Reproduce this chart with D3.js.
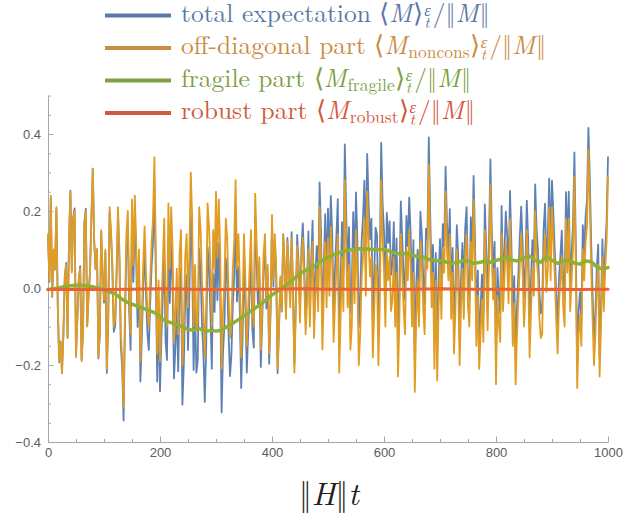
<!DOCTYPE html>
<html>
<head>
<meta charset="utf-8">
<title>expectation parts</title>
<script src="https://d3js.org/d3.v7.min.js"></script>
<style type="text/css">
	body { margin: 0; background: #fff; }
	.axis path, .axis line { stroke: #a8a8a8; }
	.axis text { font-family: "Liberation Sans", Arial, sans-serif; font-size: 13px; fill: #5c5c5c; }
	.series { fill: none; stroke-linejoin: round; stroke-linecap: round; }
	.tex { font-family: "Latin Modern Roman", "Liberation Serif", serif; }
</style>
</head>
<body>
<svg id="chart" width="626" height="518"></svg>
<script>
// sampled every 2.5 units of ||H|| t (0 .. 1000)
var tStep = 2.5;
var offDiag = [
	0.14,0.02,0.24,-0.02,0.10,0.05,0.21,-0.05,-0.19,-0.14,-0.22,-0.12,0.03,0.06,-0.13,0.12,0.25,0.04,0.18,0.20,
	-0.18,-0.08,0.02,0.05,-0.19,-0.12,0.17,0.20,-0.10,-0.02,0.04,0.18,0.31,0.12,0.05,0.10,-0.18,-0.12,0.15,0.04,
	-0.03,0.10,-0.21,-0.08,0.21,0.15,0.06,-0.10,-0.08,0.05,0.21,0.10,-0.12,-0.18,-0.31,-0.05,0.14,0.20,-0.02,-0.12,
	0.23,0.06,0.24,0.12,-0.05,0.10,-0.19,-0.08,0.06,0.16,0.04,-0.06,-0.10,0.02,0.12,0.18,0.34,0.10,-0.17,0.02,
	-0.19,-0.05,0.06,0.18,-0.05,-0.10,0.22,0.05,0.21,0.10,-0.14,-0.06,0.05,-0.12,0.09,0.15,-0.20,-0.10,0.08,0.14,
	-0.05,0.10,0.30,0.18,-0.10,0.06,-0.11,-0.08,0.21,0.15,0.02,-0.06,-0.18,-0.04,0.22,0.16,0.05,-0.10,0.15,0.05,
	0.25,0.08,0.23,0.10,-0.21,-0.06,0.01,0.18,0.13,-0.02,-0.13,-0.08,0.05,0.12,0.28,0.05,0.14,0.02,-0.18,-0.05,
	0.14,0.02,-0.15,-0.05,0.05,0.15,-0.05,-0.10,0.245,0.12,0.0,0.08,-0.16,-0.05,0.09,0.14,-0.02,0.06,-0.17,-0.04,
	0.19,0.02,0.14,0.05,-0.21,-0.10,0.03,-0.06,0.14,0.06,-0.08,0.12,0.04,-0.05,0.13,-0.02,-0.22,-0.06,0.11,0.03,
	-0.09,0.06,0.13,0.02,-0.12,-0.04,0.10,-0.10,0.02,0.12,-0.13,-0.02,0.05,-0.06,0.21,0.08,-0.16,-0.02,0.12,-0.05,
	0.13,-0.02,0.16,0.06,-0.14,-0.04,0.05,0.14,-0.22,-0.08,0.08,-0.06,0.28,0.10,-0.05,0.06,-0.16,-0.10,0.10,-0.04,
	0.15,0.02,-0.20,-0.12,0.02,0.08,0.18,-0.02,0.25,0.12,0.03,0.08,-0.18,-0.06,0.06,0.04,-0.20,-0.04,0.28,0.12,
	0.05,-0.10,0.10,0.02,0.08,-0.06,-0.03,0.08,-0.10,0.04,-0.23,-0.08,0.14,0.04,-0.05,-0.12,0.10,0.02,0.15,0.06,
	-0.10,0.04,-0.27,-0.08,0.02,-0.10,0.12,0.06,-0.05,-0.12,0.08,0.05,0.32,0.12,-0.05,0.04,-0.21,0.02,-0.24,-0.05,
	0.06,-0.08,0.10,0.04,0.25,0.10,0.02,0.14,-0.08,0.04,-0.17,-0.06,0.10,0.02,-0.20,-0.05,0.05,-0.08,0.09,0.14,
	-0.05,-0.10,0.12,0.02,0.23,0.06,-0.15,-0.02,-0.21,-0.12,-0.03,-0.14,0.15,0.04,-0.11,0.06,0.27,0.08,-0.03,0.05,
	-0.25,-0.02,-0.09,-0.14,0.14,-0.06,0.02,0.12,0.06,-0.04,0.18,0.04,-0.15,-0.04,-0.25,-0.12,-0.03,0.06,0.14,0.04,
	-0.10,-0.02,0.15,0.04,-0.18,-0.06,0.05,-0.02,0.20,0.08,0.03,-0.08,-0.13,-0.12,0.08,0.14,-0.01,0.05,0.21,0.02,
	0.21,0.12,0.03,-0.08,-0.17,-0.04,0.02,0.08,-0.05,-0.10,0.18,0.04,0.18,-0.06,0.02,0.10,0.29,0.05,-0.26,-0.12,
	-0.07,-0.15,0.10,0.02,0.12,0.16,0.36,0.22,0.05,-0.08,-0.20,-0.12,0.00,0.06,-0.23,-0.10,0.08,-0.06,0.05,0.12,
	0.29
];
var total = [
	0.133,0.016,0.234,-0.023,0.095,0.048,0.206,-0.051,-0.193,-0.139,-0.221,-0.117,0.031,0.065,-0.128,0.126,0.253,0.046,0.183,0.207,
	-0.176,-0.073,0.024,0.057,-0.186,-0.113,0.173,0.206,-0.098,-0.015,0.041,0.184,0.31,0.123,0.049,0.101,-0.183,-0.121,0.145,0.037,
	-0.038,0.094,-0.221,-0.089,0.197,0.139,0.045,-0.114,-0.098,0.032,0.186,0.076,-0.15,-0.209,-0.344,-0.084,0.101,0.162,-0.062,-0.161,
	0.185,0.016,0.192,0.073,-0.101,0.051,-0.243,-0.132,0.004,0.106,-0.018,-0.117,-0.161,-0.04,0.056,0.117,0.273,0.033,-0.243,-0.052,
	-0.268,-0.128,-0.023,0.097,-0.139,-0.187,0.129,-0.039,0.117,0.009,-0.235,-0.154,-0.048,-0.216,-0.01,0.051,-0.303,-0.202,-0.027,0.034,
	-0.161,-0.009,0.188,0.07,-0.213,-0.049,-0.22,-0.186,0.102,0.043,-0.092,-0.171,-0.296,-0.152,0.106,0.05,-0.063,-0.21,0.036,-0.062,
	0.135,-0.032,0.116,-0.01,-0.323,-0.168,-0.098,0.077,0.027,-0.118,-0.229,-0.174,-0.045,0.03,0.19,-0.035,0.055,-0.06,-0.26,-0.125,
	0.065,-0.05,-0.22,-0.115,-0.015,0.09,-0.11,-0.155,0.19,0.07,-0.05,0.035,-0.205,-0.089,0.051,0.107,-0.053,0.033,-0.197,-0.061,
	0.169,0.004,0.124,0.039,-0.221,-0.106,0.024,-0.061,0.139,0.065,-0.076,0.13,0.049,-0.035,0.145,0.002,-0.198,-0.032,0.138,0.064,
	-0.056,0.099,0.168,0.064,-0.077,0.008,0.147,-0.048,0.07,0.175,-0.076,0.04,0.109,0.005,0.274,0.15,-0.091,0.054,0.192,0.027,
	0.206,0.061,0.239,0.144,-0.057,0.048,0.136,0.231,-0.131,0.013,0.171,0.035,0.373,0.197,0.044,0.158,-0.064,0.0,0.197,0.06,
	0.248,0.121,-0.102,-0.019,0.119,0.182,0.279,0.082,0.348,0.22,0.127,0.18,-0.083,0.04,0.157,0.14,-0.103,0.06,0.377,0.22,
	0.147,-0.001,0.195,0.117,0.173,0.034,0.06,0.171,-0.013,0.129,-0.144,0.008,0.225,0.128,0.036,-0.031,0.187,0.109,0.235,0.146,
	-0.018,0.124,-0.189,0.003,0.099,-0.019,0.198,0.14,0.027,-0.042,0.154,0.126,0.391,0.194,0.02,0.112,-0.141,0.091,-0.172,0.02,
	0.127,-0.011,0.166,0.108,0.315,0.167,0.083,0.205,-0.019,0.104,-0.108,0.005,0.163,0.087,-0.135,0.019,0.117,-0.01,0.157,0.21,
	0.017,-0.032,0.184,0.086,0.291,0.124,-0.088,0.045,-0.147,-0.053,0.035,-0.071,0.217,0.109,-0.045,0.127,0.334,0.148,0.036,0.12,
	-0.182,0.052,-0.02,-0.066,0.213,0.017,0.094,0.198,0.136,0.037,0.252,0.113,-0.081,0.031,-0.182,-0.05,0.037,0.132,0.211,0.116,
	-0.025,0.059,0.227,0.122,-0.1,0.02,0.124,0.054,0.269,0.151,0.097,-0.012,-0.066,-0.049,0.152,0.219,0.069,0.13,0.284,0.094,
	0.279,0.19,0.095,-0.014,-0.109,0.025,0.084,0.149,0.017,-0.029,0.249,0.113,0.25,0.011,0.086,0.167,0.352,0.114,-0.2,-0.058,
	-0.011,-0.086,0.163,0.088,0.187,0.23,0.416,0.289,0.115,-0.015,-0.141,-0.062,0.052,0.113,-0.181,-0.05,0.126,-0.01,0.098,0.172,
	0.34
];
// smooth parts, every 10 and every 50 units
var fragileStep = 10;
var fragile = [
	-0.004,-0.002,0.0,0.004,0.006,0.007,0.007,0.005,0.003,0.0,
	-0.005,-0.01,-0.015,-0.027,-0.036,-0.042,-0.048,-0.053,-0.058,-0.064,
	-0.075,-0.086,-0.09,-0.095,-0.10,-0.108,-0.11,-0.105,-0.113,-0.11,
	-0.112,-0.11,-0.10,-0.092,-0.082,-0.072,-0.062,-0.052,-0.042,-0.03,
	-0.018,-0.008,0.002,0.012,0.025,0.037,0.046,0.053,0.062,0.072,
	0.079,0.086,0.092,0.096,0.099,0.101,0.102,0.101,0.100,0.100,
	0.100,0.096,0.090,0.088,0.090,0.085,0.082,0.080,0.074,0.072,
	0.070,0.068,0.064,0.066,0.070,0.070,0.064,0.066,0.070,0.067,
	0.071,0.076,0.079,0.072,0.070,0.078,0.083,0.072,0.067,0.082,
	0.072,0.064,0.070,0.073,0.065,0.062,0.070,0.068,0.055,0.049,
	0.053
];
var robustStep = 50;
var robust = [-0.004,-0.003,-0.004,-0.003,-0.002,-0.003,-0.004,-0.003,-0.003,-0.002,-0.003,
	-0.003,-0.004,-0.003,-0.002,-0.003,-0.003,-0.004,-0.003,-0.004,-0.003];

var xTicksMajor = [0, 200, 400, 600, 800, 1000];
var yTicksMajor = [-0.4, -0.2, 0.0, 0.2, 0.4];

var colors = { total: "#5e81b5", off: "#e19c24", fragile: "#8fb032", robust: "#eb6235" };
var legendColors = ["#5b79a6", "#cc8b3f", "#7f9f45", "#cf5a40"];

var svg = d3.select("#chart");
var x = d3.scaleLinear().domain([0, 1000]).range([48, 608]);
var y = d3.scaleLinear().domain([-0.4, 0.5]).range([442, 95.5]);

// axes (Mathematica style: ticks inside, minor ticks)
var xMinor = d3.range(0, 1001, 50).filter(function(v){ return v % 200 != 0; });
var yMinor = d3.range(-8, 11).map(function(k){ return k * 0.05; })
	.filter(function(v){ return Math.abs(Math.round(v*100) % 20) != 0; });

svg.append("g").attr("class", "axis")
	.attr("transform", "translate(0," + y(-0.4) + ")")
	.call(d3.axisBottom(x).tickValues(xMinor).tickSize(-3).tickSizeOuter(0).tickFormat(""));
svg.append("g").attr("class", "axis")
	.attr("transform", "translate(0," + y(-0.4) + ")")
	.call(d3.axisBottom(x).tickValues(xTicksMajor).tickSize(-5.5).tickSizeOuter(0).tickPadding(6).tickFormat(d3.format("d")));

svg.append("g").attr("class", "axis")
	.attr("transform", "translate(" + x(0) + ",0)")
	.call(d3.axisLeft(y).tickValues(yMinor).tickSize(-3).tickSizeOuter(0).tickFormat(""));
svg.append("g").attr("class", "axis")
	.attr("transform", "translate(" + x(0) + ",0)")
	.call(d3.axisLeft(y).tickValues(yTicksMajor).tickSize(-5.5).tickSizeOuter(0).tickPadding(7).tickFormat(d3.format(".1f")));

// series
function lineOf(step) {
	return d3.line().x(function(d, i){ return x(i * step); }).y(function(d){ return y(d); });
}
svg.append("path").datum(total).attr("class", "series")
	.attr("stroke", colors.total).attr("stroke-width", 1.8).attr("d", lineOf(tStep));
svg.append("path").datum(offDiag).attr("class", "series")
	.attr("stroke", colors.off).attr("stroke-width", 1.8).attr("d", lineOf(tStep));
svg.append("path").datum(fragile).attr("class", "series")
	.attr("stroke", colors.fragile).attr("stroke-width", 3.5).attr("d", lineOf(fragileStep));
svg.append("path").datum(robust).attr("class", "series")
	.attr("stroke", colors.robust).attr("stroke-width", 3).attr("d", lineOf(robustStep));

// legend with simple math layout
var fs = 25.5, small = 17.5;
var legendRows = [
	[["n", "total expectation \u27e8"], ["i", "M"], ["n", "\u27e9"], ["st"], ["n", "/\u2016"], ["i", "M"], ["n", "\u2016"]],
	[["n", "off-diagonal part \u27e8"], ["i", "M"], ["sub", "noncons"], ["n", "\u27e9"], ["st"], ["n", "/\u2016"], ["i", "M"], ["n", "\u2016"]],
	[["n", "fragile part \u27e8"], ["i", "M"], ["sub", "fragile"], ["n", "\u27e9"], ["st"], ["n", "/\u2016"], ["i", "M"], ["n", "\u2016"]],
	[["n", "robust part \u27e8"], ["i", "M"], ["sub", "robust"], ["n", "\u27e9"], ["st"], ["n", "/\u2016"], ["i", "M"], ["n", "\u2016"]]
];
var legend = svg.append("g").attr("class", "legend");
legendRows.forEach(function(parts, r) {
	var cy = 15.5 + r * 32.5;
	var col = legendColors[r];
	legend.append("line").attr("x1", 105).attr("x2", 171).attr("y1", cy).attr("y2", cy)
		.attr("stroke", col).attr("stroke-width", 4);
	var base = cy + 6, cx = 181;
	function txt(xx, yy, size, s) {
		return legend.append("text").attr("class", "tex").attr("x", xx).attr("y", yy)
			.attr("font-size", size).attr("fill", col).text(s);
	}
	parts.forEach(function(p) {
		if (p[0] == "st") {
			var a = txt(cx + 1, base - 6, small - 1, "\u03b5").attr("font-style", "italic");
			var b = txt(cx + 1, base + 6, small - 1, "t").attr("font-style", "italic");
			cx += Math.max(a.node().getComputedTextLength(), b.node().getComputedTextLength()) + 3;
			return;
		}
		var t = (p[0] == "sub") ? txt(cx, base + 4, small, p[1]) : txt(cx, base, fs, p[1]);
		if (p[0] == "i") t.attr("font-style", "italic");
		cx += t.node().getComputedTextLength() + (p[0] == "i" ? 1 : 0);
	});
});

// x axis title ||H|| t
var xt = svg.append("text").attr("class", "tex").attr("x", 329).attr("y", 505).attr("text-anchor", "middle")
	.attr("font-size", 32).attr("fill", "#222");
xt.append("tspan").text("\u2016");
xt.append("tspan").attr("font-style", "italic").text("H");
xt.append("tspan").text("\u2016");
xt.append("tspan").attr("font-style", "italic").text("t");
</script>
</body>
</html>
